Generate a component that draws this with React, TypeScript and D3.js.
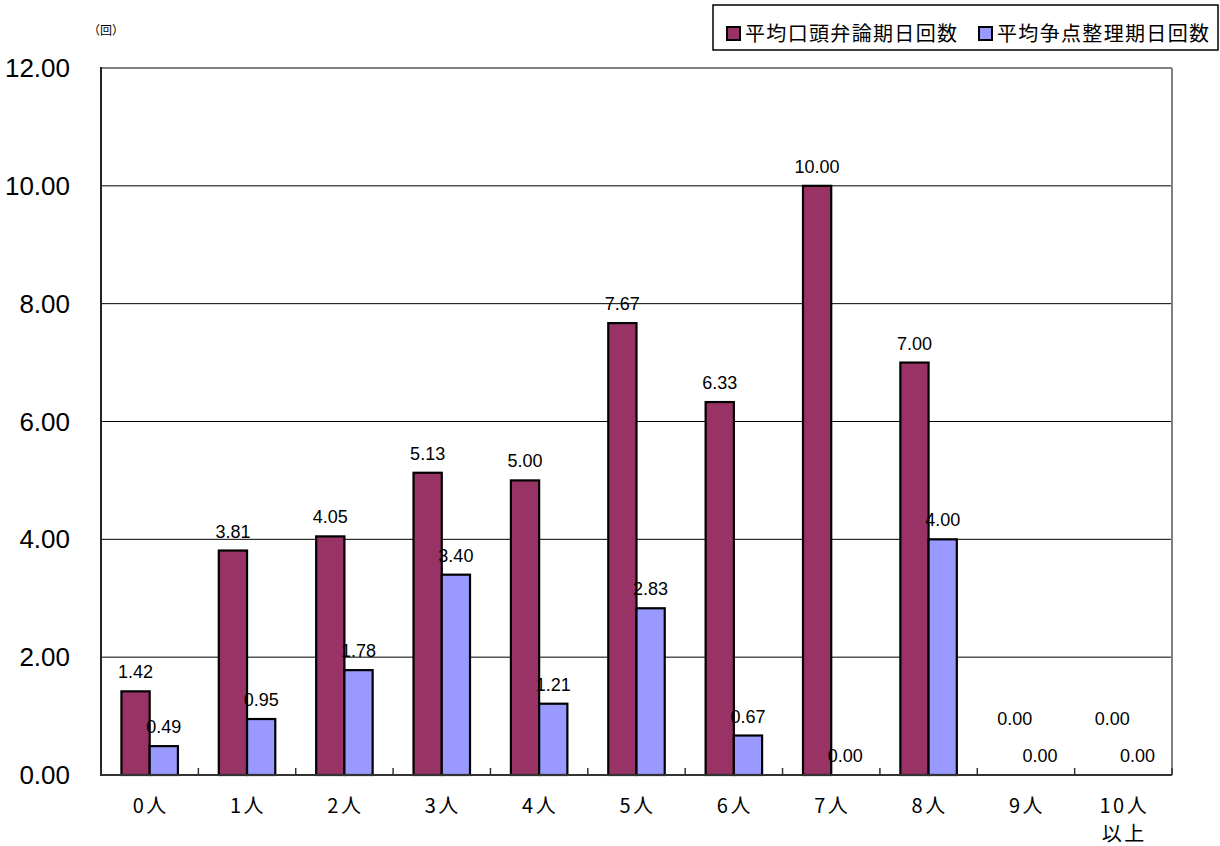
import React from 'react';
import * as d3 from 'd3';

// categories and the two series
const categories = ['0人', '1人', '2人', '3人', '4人', '5人', '6人', '7人', '8人', '9人', '10人\n以上'];
const oralDays = [1.42, 3.81, 4.05, 5.13, 5.0, 7.67, 6.33, 10.0, 7.0, 0, 0];
const issueDays = [0.49, 0.95, 1.78, 3.4, 1.21, 2.83, 0.67, 0, 4.0, 0, 0];
const seriesNames = ['平均口頭弁論期日回数', '平均争点整理期日回数'];
const seriesColors = ['#993366', '#9999FF'];
const yTicks = [0, 2, 4, 6, 8, 10, 12];

const numFont = '"Liberation Sans", Arial, sans-serif';
const jpFont = '"Noto Sans CJK JP", "Noto Sans", sans-serif';

export default function App() {
	const width = 1220;
	const height = 846;
	const left = 101, right = 1172, top = 68, bottom = 775;

	const x = d3.scaleBand().domain(categories).range([left, right]).padding(0);
	const y = d3.scaleLinear().domain([0, 12]).range([bottom, top]);
	const bw = x.bandwidth();
	const barW = bw * 0.29;
	const inner = d3.scaleBand().domain(['0', '1']).range([bw / 2 - barW, bw / 2 + barW]);

	const series = [oralDays, issueDays];

	return (
		<div style={{ position: 'absolute', left: 0, top: 0 }}>
			<svg width={width} height={height} style={{ display: 'block', background: '#fff' }}>
				{/* unit */}
				<text x={106} y={35} fontSize={12} fontFamily={jpFont} textAnchor="middle">（回）</text>

				{/* gridlines */}
				{yTicks.filter(t => t > 0 && t < 12).map(t => (
					<line key={t} x1={left} x2={right} y1={y(t)} y2={y(t)} stroke="#000" strokeWidth={1} />
				))}
				{/* plot border top/right */}
				<line x1={left} x2={right} y1={y(12)} y2={y(12)} stroke="#808080" strokeWidth={2} />
				<line x1={right} x2={right} y1={y(12)} y2={bottom} stroke="#808080" strokeWidth={2} />

				{/* y tick labels */}
				{yTicks.map(t => (
					<text key={t} x={70} y={y(t) + 9} fontSize={26} fontFamily={numFont} textAnchor="end">
						{t.toFixed(2)}
					</text>
				))}

				{/* bars */}
				{categories.map((c, i) => (
					<g key={c} transform={`translate(${x(c)},0)`}>
						{series.map((s, k) => s[i] > 0 ? (
							<rect key={k} x={inner(String(k))} y={y(s[i])} width={barW} height={bottom - y(s[i])}
								fill={seriesColors[k]} stroke="#000" strokeWidth={2.2} />
						) : null)}
					</g>
				))}

				{/* axes */}
				<line x1={left} x2={left} y1={y(12) - 1} y2={bottom + 1} stroke="#222" strokeWidth={2} />
				<line x1={left} x2={right} y1={bottom} y2={bottom} stroke="#333" strokeWidth={2} />
				{categories.map((c, i) => (
					<line key={'t' + i} x1={x(c)} x2={x(c)} y1={bottom - 7} y2={bottom} stroke="#333" strokeWidth={1.5} />
				))}
				<line x1={right} x2={right} y1={bottom - 7} y2={bottom} stroke="#333" strokeWidth={1.5} />

				{/* value labels */}
				{categories.map((c, i) => (
					<g key={'l' + c} transform={`translate(${x(c)},0)`}>
						{series.map((s, k) => {
							const cx = (inner(String(k)) as number) + barW / 2 + (k === 0 && s[i] === 0 ? 3 : 0);
							const ly = y(s[i]) - 13 - (k === 0 && s[i] === 0 ? 37 : 0);
							return (
								<text key={k} x={cx} y={ly} fontSize={18} fontFamily={numFont} textAnchor="middle">
									{s[i].toFixed(2)}
								</text>
							);
						})}
					</g>
				))}

				{/* x labels */}
				{categories.map(c => c.split('\n').map((line, j) => (
					<text key={'x' + c + j} x={(x(c) as number) + bw / 2 + 1} y={813 + j * 28} fontSize={20}
						fontFamily={jpFont} textAnchor="middle" letterSpacing={2.5}>
						{line}
					</text>
				)))}

				{/* legend */}
				<rect x={713} y={5} width={505} height={45} fill="#fff" stroke="#000" strokeWidth={1.5} />
				{seriesNames.map((name, k) => {
					const lx = k === 0 ? 727 : 979;
					return (
						<g key={name}>
							<rect x={lx} y={27} width={13} height={13} fill={seriesColors[k]} stroke="#000" strokeWidth={2} />
							<text x={lx + 18} y={41} fontSize={20} fontFamily={jpFont} textLength={212} lengthAdjust="spacing">
								{name}
							</text>
						</g>
					);
				})}
			</svg>
		</div>
	);
}
